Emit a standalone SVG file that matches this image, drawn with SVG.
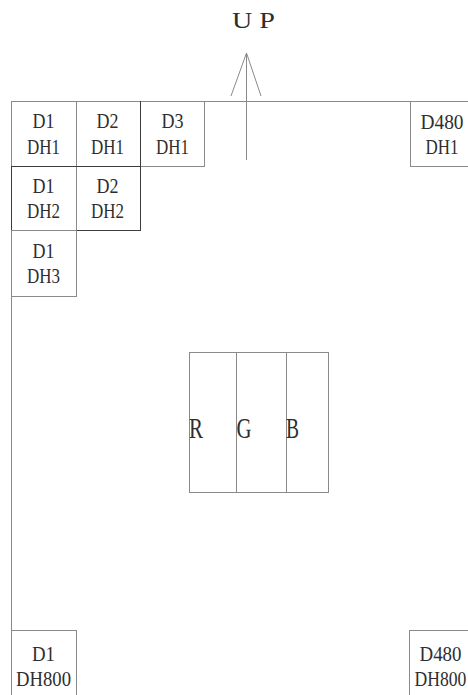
<svg xmlns="http://www.w3.org/2000/svg" width="468" height="695" viewBox="0 0 468 695">
<style>
.bx{fill:none;stroke:#8a8a8a;stroke-width:1}
.dk{fill:none;stroke:#3c3c3c;stroke-width:1}
.ln{fill:none;stroke:#8a8a8a;stroke-width:1}
.t{font-family:"Liberation Serif","Times New Roman",serif;font-size:22px;fill:#2e2e2e;text-anchor:middle}
.big{font-family:"Liberation Serif","Times New Roman",serif;font-size:30px;fill:#2e2e2e}
.up{font-family:"Liberation Serif","Times New Roman",serif;font-size:24px;fill:#2e2e2e}
</style>
<rect width="468" height="695" fill="#fff"/>
<g id="connectors">
<line class="ln" x1="11" y1="101.5" x2="468" y2="101.5"/>
<line class="ln" x1="11.5" y1="101" x2="11.5" y2="695"/>
<line class="ln" x1="246.5" y1="53" x2="246.5" y2="160"/>
<line class="ln" x1="246.5" y1="53" x2="231" y2="96"/>
<line class="ln" x1="246.5" y1="53" x2="261" y2="96"/>
</g>
<g id="up-label"><text class="up" x="232" y="28" textLength="43" lengthAdjust="spacingAndGlyphs">U P</text></g>
<g id="d1dh1"><rect class="bx" x="11.5" y="101.5" width="65" height="65"/><text class="t" x="43.5" y="127.5" textLength="22" lengthAdjust="spacingAndGlyphs">D1</text><text class="t" x="43.5" y="153.5" textLength="33" lengthAdjust="spacingAndGlyphs">DH1</text></g>
<g id="d2dh1"><rect class="bx" x="76.5" y="101.5" width="64" height="65"/><text class="t" x="107.5" y="127.5" textLength="22" lengthAdjust="spacingAndGlyphs">D2</text><text class="t" x="107.5" y="153.5" textLength="33" lengthAdjust="spacingAndGlyphs">DH1</text></g>
<g id="d3dh1"><rect class="bx" x="140.5" y="101.5" width="64" height="65"/><line class="dk" x1="140.5" y1="101" x2="140.5" y2="167"/><text class="t" x="172.5" y="127.5" textLength="22" lengthAdjust="spacingAndGlyphs">D3</text><text class="t" x="172.5" y="153.5" textLength="33" lengthAdjust="spacingAndGlyphs">DH1</text></g>
<g id="d480dh1"><rect class="bx" x="410.5" y="101.5" width="66" height="65"/><text class="t" x="442" y="128.5" textLength="43" lengthAdjust="spacingAndGlyphs">D480</text><text class="t" x="442" y="154" textLength="33" lengthAdjust="spacingAndGlyphs">DH1</text></g>
<g id="d1dh2"><rect class="dk" x="11.5" y="166.5" width="65" height="64"/><text class="t" x="43.5" y="192.5" textLength="22" lengthAdjust="spacingAndGlyphs">D1</text><text class="t" x="43.5" y="218" textLength="33" lengthAdjust="spacingAndGlyphs">DH2</text></g>
<g id="d2dh2"><rect class="dk" x="76.5" y="166.5" width="64" height="64"/><line class="bx" x1="76.5" y1="167" x2="76.5" y2="230"/><text class="t" x="107.5" y="192.5" textLength="22" lengthAdjust="spacingAndGlyphs">D2</text><text class="t" x="107.5" y="218" textLength="33" lengthAdjust="spacingAndGlyphs">DH2</text></g>
<g id="d1dh3"><rect class="bx" x="11.5" y="230.5" width="65" height="66"/><text class="t" x="43.5" y="257.5" textLength="22" lengthAdjust="spacingAndGlyphs">D1</text><text class="t" x="43.5" y="283" textLength="33" lengthAdjust="spacingAndGlyphs">DH3</text></g>
<g id="rgb"><rect class="bx" x="189.5" y="352.5" width="139" height="140"/><line class="bx" x1="236.5" y1="352.5" x2="236.5" y2="492.5"/><line class="bx" x1="286.5" y1="352.5" x2="286.5" y2="492.5"/>
<text class="big" x="189" y="437.5" textLength="14" lengthAdjust="spacingAndGlyphs">R</text>
<text class="big" x="236.5" y="437.5" textLength="15" lengthAdjust="spacingAndGlyphs">G</text>
<text class="big" x="286" y="437.5" textLength="13" lengthAdjust="spacingAndGlyphs">B</text></g>
<g id="d1dh800"><rect class="bx" x="11.5" y="630.5" width="65" height="70"/><text class="t" x="43.5" y="661" textLength="23" lengthAdjust="spacingAndGlyphs">D1</text><text class="t" x="43.5" y="686" textLength="55" lengthAdjust="spacingAndGlyphs">DH800</text></g>
<g id="d480dh800"><rect class="bx" x="409.5" y="630.5" width="70" height="70"/><text class="t" x="440.5" y="661" textLength="42" lengthAdjust="spacingAndGlyphs">D480</text><text class="t" transform="translate(440.5,686) scale(0.8,1)" x="0" y="0">DH800</text></g>
</svg>
